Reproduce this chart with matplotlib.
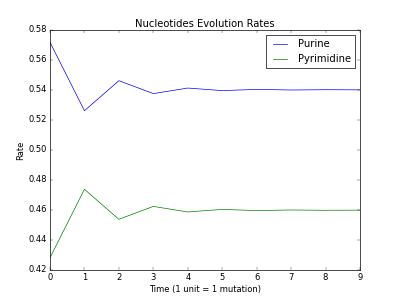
import matplotlib
matplotlib.use("Agg")
import matplotlib.pyplot as plt

plt.style.use("classic")

# time steps and rates
steps = [0, 1, 2, 3, 4, 5, 6, 7, 8, 9]
purine = [0.5718, 0.5262, 0.5462, 0.5376, 0.5413, 0.5396, 0.5404, 0.5400, 0.5402, 0.5401]
pyrimidine = [0.4282, 0.4738, 0.4538, 0.4624, 0.4587, 0.4604, 0.4596, 0.4600, 0.4598, 0.4599]

fig = plt.figure(figsize=(8, 6), dpi=50)
plt.plot(steps, purine, "b-", label="Purine")
plt.plot(steps, pyrimidine, "g-", label="Pyrimidine")
plt.ylim(0.42, 0.58)
plt.xlim(0, 9)
plt.title("Nucleotides Evolution Rates")
plt.xlabel("Time (1 unit = 1 mutation)")
plt.ylabel("Rate")
plt.legend()
plt.savefig("out.png", dpi=50)
